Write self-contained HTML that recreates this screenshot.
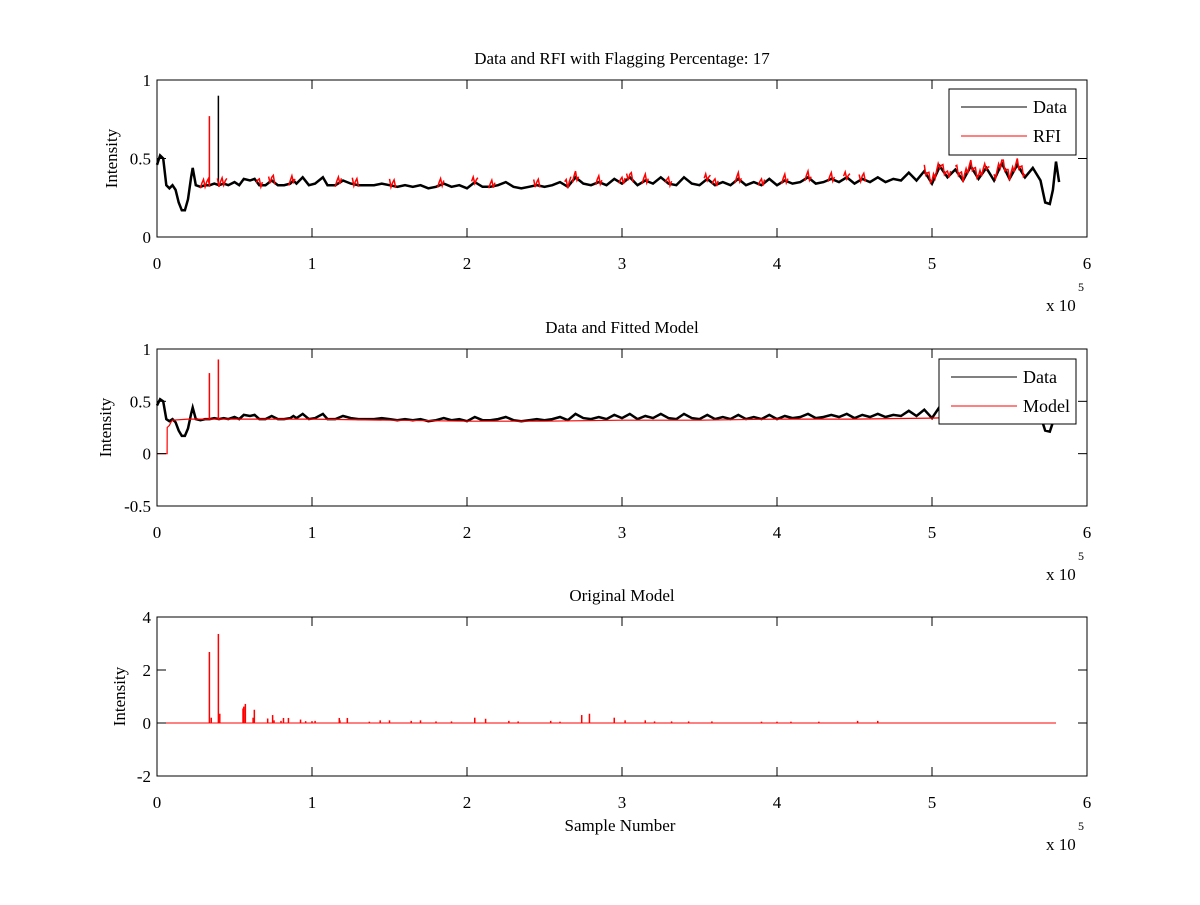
<!DOCTYPE html>
<html><head><meta charset="utf-8"><style>
body{margin:0;background:#fff;}
svg text{font-family:"Liberation Serif",serif;font-size:17px;fill:#000;}
</style></head><body>
<svg id="chart" width="1200" height="900" xmlns="http://www.w3.org/2000/svg"></svg>
<script>
// sample positions in thousands of samples
const dataX=[0,2,4,6,8,10,12,14,16,18,20,22,23,25,28,31,34,37,40,43,46,50,53,56,60,63,66,70,74,78,82,86,88,90,94,98,102,107,110,115,120,125,130,135,140,145,150,155,160,165,170,175,180,185,190,195,200,205,210,215,220,225,230,235,240,245,250,255,260,265,270,275,280,285,290,295,300,305,310,315,320,325,330,335,340,345,350,355,360,365,370,375,380,385,390,395,400,405,410,415,420,425,430,435,440,445,450,455,460,465,470,475,480,485,490,495,500,505,510,515,520,525,530,535,540,545,550,555,560,565,570,573,576,578,580,582];
const dataY=[0.46,0.52,0.5,0.33,0.31,0.33,0.3,0.22,0.17,0.17,0.24,0.38,0.44,0.33,0.32,0.33,0.33,0.34,0.33,0.34,0.33,0.35,0.33,0.37,0.36,0.37,0.33,0.33,0.36,0.33,0.33,0.34,0.36,0.34,0.38,0.33,0.34,0.38,0.33,0.33,0.36,0.34,0.33,0.33,0.33,0.34,0.33,0.32,0.33,0.32,0.33,0.31,0.32,0.34,0.32,0.33,0.31,0.35,0.32,0.32,0.33,0.35,0.32,0.31,0.32,0.33,0.32,0.33,0.35,0.32,0.38,0.34,0.33,0.35,0.33,0.37,0.34,0.38,0.33,0.36,0.34,0.38,0.34,0.33,0.38,0.34,0.33,0.37,0.33,0.35,0.33,0.37,0.33,0.35,0.33,0.37,0.33,0.36,0.34,0.35,0.38,0.34,0.35,0.37,0.35,0.38,0.34,0.37,0.35,0.38,0.35,0.37,0.36,0.41,0.36,0.42,0.34,0.45,0.38,0.43,0.36,0.45,0.37,0.44,0.36,0.47,0.37,0.46,0.38,0.44,0.36,0.22,0.21,0.3,0.48,0.35];
const spikeX=[33.8,39.6];
const spikeY=[0.77,0.9];
const rfiStart=[28,39,64,72,85,115,126,150,181,203,214,243,263,268,283,298,303,313,328,353,358,373,388,403,418,433,443,453,495,515,540];
const rfiEnd=[34,45,68,76,89,119,130,154,185,207,218,247,267,272,287,302,307,317,332,357,362,377,392,407,422,437,447,457,512,537,560];
const modelX=[0,6.5,6.6,8,9,10,20,60,100,150,200,250,300,350,400,450,500,540,580];
const modelY=[0,0,0.25,0.27,0.3,0.32,0.33,0.33,0.33,0.32,0.31,0.31,0.32,0.32,0.33,0.33,0.34,0.36,0.37];
const origX=[33.8,35,39.6,40.5,55.5,56,57,62,62.8,71.4,74.6,75.5,80,81.6,84.8,92.6,95.9,100,102,117.6,118,122.8,137,144,150,164,170,180,190,205,212,227,233,254,260,274,279,295,302,315,321,332,343,358,390,400,409,427,452,465];
const origY=[2.68,0.2,3.36,0.35,0.55,0.62,0.72,0.2,0.5,0.17,0.3,0.1,0.08,0.19,0.19,0.13,0.07,0.07,0.08,0.19,0.1,0.19,0.05,0.1,0.1,0.08,0.1,0.06,0.06,0.2,0.16,0.08,0.06,0.08,0.05,0.3,0.35,0.2,0.1,0.1,0.06,0.06,0.06,0.06,0.05,0.05,0.05,0.05,0.08,0.08];
const xTicks=[0,1,2,3,4,5,6];

const NS="http://www.w3.org/2000/svg";
const svg=document.getElementById('chart');
function mk(tag,attrs,parent){const e=document.createElementNS(NS,tag);for(const k in attrs)e.setAttribute(k,attrs[k]);(parent||svg).appendChild(e);return e;}
const L=157,R=1087;
const sx=v=>L+(v/600)*(R-L);
function mkY(top,bot,ymin,ymax){return v=>bot-(v-ymin)/(ymax-ymin)*(bot-top);}

function axes(g,top,bot,yTicks,sy,title,ylab,ylx){
  const f=mk('rect',{x:L,y:top,width:R-L,height:bot-top,fill:'none',stroke:'#000','stroke-width':1},g);
  
  xTicks.forEach(t=>{const x=sx(t*100);
    mk('line',{x1:x,x2:x,y1:bot,y2:bot-9,stroke:'#000'},g);
    mk('line',{x1:x,x2:x,y1:top,y2:top+9,stroke:'#000'},g);
    const tx=mk('text',{x:x,y:bot+32,'text-anchor':'middle'},g);tx.textContent=t;
    });
  yTicks.forEach(t=>{const y=sy(t);
    mk('line',{x1:L,x2:L+9,y1:y,y2:y,stroke:'#000'},g);
    mk('line',{x1:R,x2:R-9,y1:y,y2:y,stroke:'#000'},g);
    const tx=mk('text',{x:L-6,y:y+6,'text-anchor':'end'},g);tx.textContent=t;
    });
  const tt=mk('text',{x:622,y:top-16,'text-anchor':'middle'},g);tt.textContent=title;
  
  const yl=mk('text',{x:0,y:0,'text-anchor':'middle',transform:`translate(${ylx},${(top+bot)/2}) rotate(-90)`},g);yl.textContent=ylab;
  
  const ex=mk('text',{x:1046,y:bot+74},g);ex.textContent='x 10';
  
  const e5=mk('text',{x:1078,y:bot+54,style:'font-size:12px'},g);e5.textContent='5';
  
}
function path(xs,ys,sy,col,w,g,name){let d='';xs.forEach((x,i)=>{d+=(i?'L':'M')+sx(x).toFixed(1)+' '+sy(ys[i]).toFixed(1);});
  const p=mk('path',{d:d,fill:'none',stroke:col,'stroke-width':w,'stroke-linejoin':'miter'},g);
  return p;}
function interp(x){for(let i=1;i<dataX.length;i++){if(x<=dataX[i]){const t=(x-dataX[i-1])/(dataX[i]-dataX[i-1]);return dataY[i-1]+t*(dataY[i]-dataY[i-1]);}}return dataY[dataY.length-1];}
function legend(g,x,y,w,h,labels,cols){
  const r=mk('rect',{x:x,y:y,width:w,height:h,fill:'#fff',stroke:'#000'},g);
  
  labels.forEach((lb,i)=>{const yy=y+18+i*29;
    mk('line',{x1:x+12,x2:x+78,y1:yy,y2:yy,stroke:cols[i]},g);
    const t=mk('text',{x:x+84,y:yy+6,style:'font-size:18px'},g);t.textContent=lb;
    });
}

// Plot 1
const g1=mk('g',{});
const sy1=mkY(80,237,0,1);
path(dataX,dataY,sy1,'#000',2.5,g1,'data-line');
spikeX.forEach((x,i)=>{const l=mk('line',{x1:sx(x),x2:sx(x),y1:sy1(0.33),y2:sy1(spikeY[i]),stroke:i==0?'#f00':'#000','stroke-width':1.5},g1);
  });
rfiStart.forEach((s,i)=>{const xs=[],ys=[];for(let x=s;x<=rfiEnd[i];x+=1){xs.push(x);ys.push(interp(x)+(x%3==0?0.04:(x%3==1?-0.01:0.02)));}
  path(xs,ys,sy1,'#f00',1.5,g1,'rfi-segment');});
axes(g1,80,237,[0,0.5,1],sy1,'Data and RFI with Flagging Percentage: 17','Intensity',117);
legend(g1,949,89,127,66,['Data','RFI'],['#000','#f00']);

// Plot 2
const g2=mk('g',{});
const sy2=mkY(349,506,-0.5,1);
path(dataX,dataY,sy2,'#000',2.5,g2,'data-line');
path(modelX,modelY,sy2,'#f00',1.2,g2,'model-line');
spikeX.forEach((x,i)=>{const l=mk('line',{x1:sx(x),x2:sx(x),y1:sy2(0.33),y2:sy2(spikeY[i]),stroke:'#f00','stroke-width':1.5},g2);
  });
axes(g2,349,506,[-0.5,0,0.5,1],sy2,'Data and Fitted Model','Intensity',111);
legend(g2,939,359,137,65,['Data','Model'],['#000','#f00']);

// Plot 3
const g3=mk('g',{});
const sy3=mkY(617,776,-2,4);
const base=mk('line',{x1:sx(0),x2:sx(580),y1:sy3(0),y2:sy3(0),stroke:'#f00','stroke-width':1},g3);

origX.forEach((x,i)=>{const l=mk('line',{x1:sx(x),x2:sx(x),y1:sy3(0),y2:sy3(origY[i]),stroke:'#f00','stroke-width':1.5},g3);
  });
axes(g3,617,776,[-2,0,2,4],sy3,'Original Model','Intensity',125);
const xl=mk('text',{x:620,y:831,'text-anchor':'middle'},g3);xl.textContent='Sample Number';

</script>
</body></html>
